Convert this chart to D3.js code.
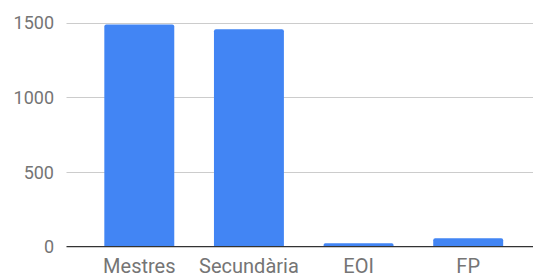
<!DOCTYPE html>
<html>
<head>
<meta charset="utf-8">
<script src="https://cdn.jsdelivr.net/npm/d3@7"></script>
<style>
  body { margin: 0; background: #fff; }
  text { font-family: Roboto, "Noto Sans", sans-serif; }
</style>
</head>
<body>
<script>
// chart data
var categories = ["Mestres", "Secundària", "EOI", "FP"];
var values = [1488, 1456, 23, 56];
var yTicks = [0, 500, 1000, 1500];

var width = 533, height = 275;
var plotLeft = 66.5, plotRight = 533;
var plotTop = 22.7, plotBottom = 246.7;

var svg = d3.select("body").append("svg")
    .attr("width", width)
    .attr("height", height);

var y = d3.scaleLinear().domain([0, 1500]).range([plotBottom, plotTop]);
var x = d3.scaleBand().domain(categories).range([66.5, 541]).paddingInner(0.362).paddingOuter(0.345);

// gridlines
svg.selectAll(".grid")
    .data(yTicks.filter(function(d) { return d > 0; }))
    .enter().append("line")
    .attr("x1", plotLeft).attr("x2", plotRight)
    .attr("y1", function(d) { return Math.round(y(d)) + 0.5; })
    .attr("y2", function(d) { return Math.round(y(d)) + 0.5; })
    .attr("stroke", "#cccccc")
    .attr("stroke-width", 1);

// y labels
svg.selectAll(".ylab")
    .data(yTicks)
    .enter().append("text")
    .attr("x", 54)
    .attr("y", function(d) { return y(d) + 6.5; })
    .attr("text-anchor", "end")
    .attr("font-size", 18)
    .attr("fill", "#757575")
    .text(function(d) { return d; });

// bars
svg.selectAll(".bar")
    .data(values)
    .enter().append("path")
    .attr("fill", "#4285f4")
    .attr("d", function(d, i) {
        var x0 = x(categories[i]), w = x.bandwidth();
        var y0 = y(d), r = Math.min(2, (plotBottom - y0) / 2);
        return "M" + x0 + "," + plotBottom +
            "V" + (y0 + r) + "Q" + x0 + "," + y0 + " " + (x0 + r) + "," + y0 +
            "H" + (x0 + w - r) + "Q" + (x0 + w) + "," + y0 + " " + (x0 + w) + "," + (y0 + r) +
            "V" + plotBottom + "Z";
    });

// baseline
svg.append("line")
    .attr("x1", plotLeft).attr("x2", plotRight)
    .attr("y1", plotBottom).attr("y2", plotBottom)
    .attr("stroke", "#333333")
    .attr("stroke-width", 1.3);

// x labels
svg.selectAll(".xlab")
    .data(categories)
    .enter().append("text")
    .attr("x", function(d) { return x(d) + x.bandwidth() / 2; })
    .attr("y", 272.6)
    .attr("text-anchor", "middle")
    .attr("font-size", 20)
    .attr("fill", "#757575")
    .text(function(d) { return d; });
</script>
</body>
</html>
